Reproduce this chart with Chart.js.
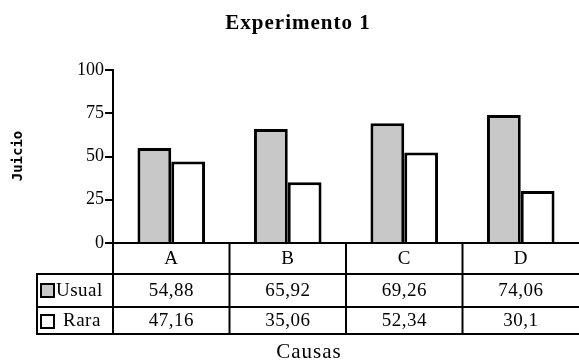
<!DOCTYPE html>
<html>
<head>
<meta charset="utf-8">
<script src="https://cdn.jsdelivr.net/npm/chart.js@4.4.0/dist/chart.umd.min.js"></script>
<style>
  html, body { margin: 0; padding: 0; background: #fff; }
  #wrap { width: 579px; height: 363px; }
</style>
</head>
<body>
<div id="wrap"><canvas id="chart" width="579" height="363"></canvas></div>
<script>
const causas = ['A', 'B', 'C', 'D'];
const usual = [54.88, 65.92, 69.26, 74.06];
const rara = [47.16, 35.06, 52.34, 30.1];
const yTicks = [0, 25, 50, 75, 100];

const serif = '"Liberation Serif", "Times New Roman", serif';

function fmt(v) {
    return String(v).replace('.', ',');
}

// draws title, y title, the data table under the axis and the x title
const tablePlugin = {
    id: 'tablePlugin',
    afterDraw(chart) {
        const ctx = chart.ctx;
        const x = chart.scales.x;
        const area = chart.chartArea;
        const left = area.left;
        const right = chart.width;
        const step = x.width / causas.length;
        const rows = [area.bottom, 274, 307, 334];
        const tableLeft = 37;

        ctx.save();
        ctx.fillStyle = '#000';
        ctx.textAlign = 'center';
        ctx.textBaseline = 'middle';

        ctx.font = 'bold 21px ' + serif;
        ctx.letterSpacing = '1px';
        ctx.fillText('Experimento 1', 298, 24);
        ctx.letterSpacing = '0px';

        ctx.save();
        ctx.translate(18, 156);
        ctx.rotate(-Math.PI / 2);
        ctx.font = 'bold 14px "DejaVu Sans Mono", monospace';
        ctx.fillText('Juicio', 0, 0);
        ctx.restore();

        ctx.strokeStyle = '#000';
        ctx.lineWidth = 2;
        ctx.beginPath();
        // horizontal lines
        ctx.moveTo(left, rows[0]); ctx.lineTo(right, rows[0]);
        for (let r = 1; r < rows.length; r++) {
            ctx.moveTo(tableLeft, rows[r]); ctx.lineTo(right, rows[r]);
        }
        // vertical lines
        ctx.moveTo(tableLeft, rows[1] - 1); ctx.lineTo(tableLeft, rows[3] + 1);
        ctx.moveTo(left, rows[0]); ctx.lineTo(left, rows[3] + 1);
        for (let i = 1; i < causas.length; i++) {
            const bx = x.getPixelForValue(i) - step / 2;
            ctx.moveTo(bx, rows[0]); ctx.lineTo(bx, rows[3] + 1);
        }
        ctx.stroke();

        ctx.font = '19px ' + serif;
        ctx.letterSpacing = '0.5px';
        for (let i = 0; i < causas.length; i++) {
            const cx = x.getPixelForValue(i);
            ctx.fillText(causas[i], cx, (rows[0] + rows[1]) / 2 + 1);
            ctx.fillText(fmt(usual[i]), cx, (rows[1] + rows[2]) / 2 + 1);
            ctx.fillText(fmt(rara[i]), cx, (rows[2] + rows[3]) / 2 + 1);
        }

        // legend column
        ctx.lineWidth = 2;
        ctx.fillStyle = '#c8c8c8';
        ctx.fillRect(41, 284, 13, 13);
        ctx.strokeRect(41, 284, 13, 13);
        ctx.fillStyle = '#fff';
        ctx.fillRect(41, 315, 13, 13);
        ctx.strokeRect(41, 315, 13, 13);
        ctx.fillStyle = '#000';
        ctx.textAlign = 'left';
        ctx.fillText('Usual', 56, (rows[1] + rows[2]) / 2 + 1);
        ctx.fillText('Rara', 63, (rows[2] + rows[3]) / 2 + 1);

        ctx.textAlign = 'center';
        ctx.font = '21px ' + serif;
        ctx.letterSpacing = '1px';
        ctx.fillText('Causas', 309, 352);
        ctx.restore();
    }
};

new Chart(document.getElementById('chart'), {
    type: 'bar',
    data: {
        labels: causas,
        datasets: [{
            label: 'Usual',
            data: usual,
            backgroundColor: '#c8c8c8',
            borderColor: '#000',
            borderWidth: 3,
            categoryPercentage: 0.58,
            barPercentage: 1
        }, {
            label: 'Rara',
            data: rara,
            backgroundColor: '#fff',
            borderColor: '#000',
            borderWidth: 3,
            categoryPercentage: 0.58,
            barPercentage: 1
        }]
    },
    options: {
        responsive: false,
        animation: false,
        layout: { padding: { top: 70, bottom: 120, left: 0, right: 0 } },
        plugins: {
            legend: { display: false },
            title: { display: false },
            tooltip: { enabled: false }
        },
        scales: {
            x: {
                ticks: { display: false },
                grid: { display: false, drawTicks: false },
                border: { display: true, color: '#000', width: 2 },
                afterFit(s) { s.height = 0; }
            },
            y: {
                min: 0,
                max: 100,
                afterBuildTicks(s) { s.ticks = yTicks.map(v => ({ value: v })); },
                afterFit(s) { s.width = 113; },
                ticks: {
                    color: '#000',
                    font: { family: serif, size: 18 },
                    padding: 1
                },
                grid: { drawOnChartArea: false, drawTicks: true, tickLength: 8, color: '#000', lineWidth: 2 },
                border: { display: true, color: '#000', width: 2 }
            }
        }
    },
    plugins: [tablePlugin]
});
</script>
</body>
</html>
